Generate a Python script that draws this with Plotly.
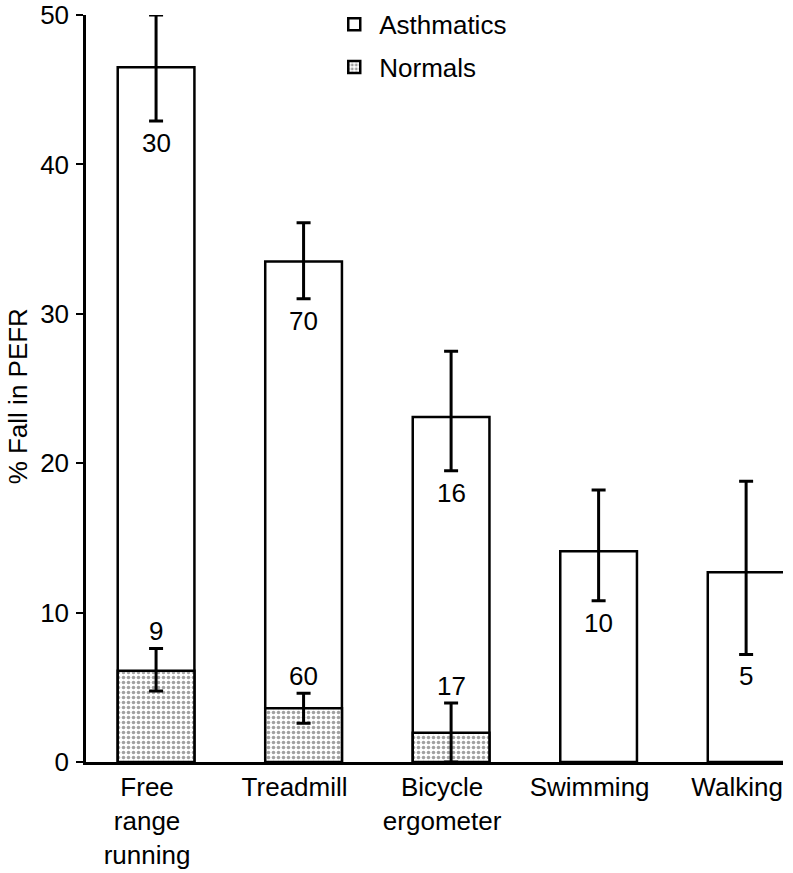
import plotly.graph_objects as go

categories = ["Free<br>range<br>running", "Treadmill", "Bicycle<br>ergometer", "Swimming", "Walking"]

asth_values = [46.5, 33.5, 23.1, 14.1, 12.7]
asth_err_plus = [3.5, 2.6, 4.4, 4.1, 6.1]
asth_err_minus = [3.6, 2.5, 3.6, 3.3, 5.5]
asth_n = ["30", "70", "16", "10", "5"]

norm_values = [6.1, 3.6, 1.95, None, None]
norm_err_plus = [1.5, 1.0, 2.0, 0, 0]
norm_err_minus = [1.35, 1.0, 1.95, 0, 0]
norm_n = ["9", "60", "17", None, None]

y_ticks = [0, 10, 20, 30, 40, 50]
y_title = "% Fall in PEFR"

FONT = "Liberation Sans, Arial, Helvetica, sans-serif"
FS = 26

fig = go.Figure()
fig.add_trace(go.Bar(
    x=categories, y=asth_values, name="Asthmatics", width=0.52, legendgroup="a",
    marker=dict(color="white", line=dict(color="black", width=2.5)),
    error_y=dict(type="data", symmetric=False, array=asth_err_plus,
                 arrayminus=asth_err_minus, color="black", thickness=3, width=7),
))
fig.add_trace(go.Bar(
    x=categories, y=norm_values, name="Normals", width=0.52, legendgroup="n",
    marker=dict(color="white", line=dict(color="black", width=2.5),
                pattern=dict(shape=".", fgcolor="#444444", bgcolor="white",
                             size=5, solidity=0.4)),
    error_y=dict(type="data", symmetric=False, array=norm_err_plus,
                 arrayminus=norm_err_minus, color="black", thickness=3, width=7),
))

annotations = []
for c, v, m, t in zip(categories, asth_values, asth_err_minus, asth_n):
    annotations.append(dict(x=c, y=v - m, text=t, showarrow=False, yanchor="top",
                            yshift=-5, font=dict(family=FONT, size=FS, color="black")))
for c, v, p, t in zip(categories, norm_values, norm_err_plus, norm_n):
    if v is None:
        continue
    annotations.append(dict(x=c, y=v + p, text=t, showarrow=False, yanchor="bottom",
                            yshift=0, font=dict(family=FONT, size=FS, color="black")))
annotations.append(dict(xref="paper", yref="paper", x=-0.097, y=0.49, text=y_title,
                        textangle=-90, showarrow=False, xanchor="center", yanchor="middle",
                        font=dict(family=FONT, size=FS, color="black")))

fig.update_layout(
    width=793, height=873,
    barmode="overlay",
    paper_bgcolor="white", plot_bgcolor="white",
    margin=dict(l=86, r=10, t=15, b=111, autoexpand=False),
    font=dict(family=FONT, size=FS, color="black"),
    showlegend=True,
    legend=dict(x=0.349, y=1.019, xanchor="left", yanchor="top",
                bgcolor="rgba(0,0,0,0)", font=dict(size=FS),
                tracegroupgap=6, itemwidth=40),
    annotations=annotations,
    xaxis=dict(range=[-0.475, 4.25], showline=True, linecolor="black", linewidth=2.5,
               ticks="", showgrid=False, zeroline=False, tickfont=dict(size=FS),
               automargin=False, ticklabelshift=-9, ticklabeloverflow="allow"),
    yaxis=dict(range=[0, 50], tickvals=y_ticks, showline=True, linecolor="black",
               linewidth=2.5, ticks="outside", ticklen=7, tickwidth=2, tickcolor="black",
               showgrid=False, zeroline=False, tickfont=dict(size=FS), automargin=False,
               ticklabelstandoff=2, ticklabeloverflow="allow"),
)

fig.write_html("out.html", config={"displayModeBar": False},
               post_script="document.body.style.margin='0';document.body.style.overflow='hidden';")
